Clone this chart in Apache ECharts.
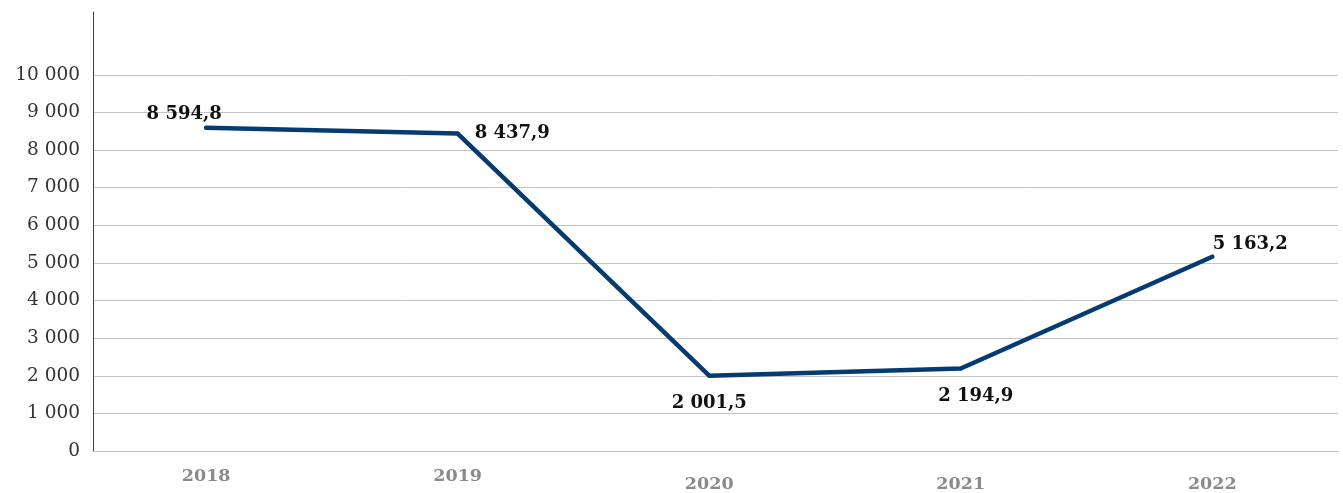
<!DOCTYPE html>
<html>
<head>
<meta charset="utf-8">
<script src="https://cdn.jsdelivr.net/npm/echarts@6/dist/echarts.min.js"></script>
<style>
    html, body { margin: 0; padding: 0; background: #fff; }
    #chart { width: 1343px; height: 493px; }
</style>
</head>
<body>
<div id="chart"></div>
<script>
// Data
// ------------------------------

var years = ['2018', '2019', '2020', '2021', '2022'];
var values = [8594.8, 8437.9, 2001.5, 2194.9, 5163.2];
var yTicks = [0, 1000, 2000, 3000, 4000, 5000, 6000, 7000, 8000, 9000, 10000];


// Number format: "8 594,8"
var fmt = function(v, decimals) {
    var parts = v.toFixed(decimals).split('.');
    var int = parts[0].replace(/\B(?=(\d{3})+(?!\d))/g, ' ');
    return parts.length > 1 ? int + ',' + parts[1] : int;
};

// Label placement for each point
var labelPlace = [
    { position: 'top', offset: [-22, 3] },
    { position: 'right', offset: [10, 0] },
    { position: 'bottom', offset: [0, 12] },
    { position: 'bottom', offset: [15, 12] },
    { position: 'top', offset: [38, 4] }
];

var seriesData = values.map(function(v, i) {
    return {
        value: [i, v],
        label: labelPlace[i]
    };
});

var chart = echarts.init(document.getElementById('chart'), null, { renderer: 'canvas' });

chart.setOption({
    animation: false,
    textStyle: {
        fontFamily: 'DejaVu Serif'
    },
    grid: {
        left: 93,
        right: 5,
        top: 12,
        bottom: 41
    },
    xAxis: {
        type: 'value',
        min: -0.45,
        max: 4.5,
        splitLine: { show: false },
        axisTick: { show: false },
        axisLine: {
            show: true,
            onZero: false,
            lineStyle: { color: '#bfbfbf', width: 1 }
        },
        axisLabel: {
            customValues: [0, 1, 2, 3, 4],
            margin: 16,
            formatter: function(v) {
                var i = Math.round(v);
                return (i < 2 ? '{hi|' : '{lo|') + years[i] + '}';
            },
            rich: {
                hi: {
                    fontFamily: 'DejaVu Serif',
                    fontWeight: 'bold',
                    fontSize: 17.5,
                    color: '#8a8a8a',
                    padding: [0, 0, 0, 0]
                },
                lo: {
                    fontFamily: 'DejaVu Serif',
                    fontWeight: 'bold',
                    fontSize: 17.5,
                    color: '#8a8a8a',
                    padding: [8, 0, 0, 0]
                }
            }
        }
    },
    yAxis: {
        type: 'value',
        min: 0,
        max: 11670,
        interval: 1000,
        axisLine: {
            show: true,
            onZero: false,
            lineStyle: { color: '#404040', width: 1 }
        },
        axisTick: { show: false },
        splitLine: {
            show: true,
            lineStyle: {
                color: ['#c4c4c4', '#c4c4c4', '#c4c4c4', '#c4c4c4', '#c4c4c4', '#c4c4c4',
                        '#c4c4c4', '#c4c4c4', '#c4c4c4', '#c4c4c4', '#c4c4c4',
                        'rgba(0,0,0,0)', 'rgba(0,0,0,0)'],
                width: 1
            }
        },
        axisLabel: {
            customValues: yTicks,
            margin: 13,
            fontSize: 18.5,
            color: '#333333',
            fontFamily: 'DejaVu Serif',
            formatter: function(v) {
                return fmt(v, 0);
            }
        }
    },
    series: [
        {
            type: 'line',
            data: seriesData,
            symbol: 'circle',
            symbolSize: 4,
            itemStyle: { color: '#063b72' },
            lineStyle: {
                color: '#063b72',
                width: 4.5,
                cap: 'round',
                join: 'round'
            },
            label: {
                show: true,
                fontFamily: 'DejaVu Serif',
                fontWeight: 'bold',
                fontSize: 18,
                color: '#111111',
                formatter: function(p) {
                    return fmt(p.value[1], 1);
                }
            }
        }
    ]
});
</script>
</body>
</html>
